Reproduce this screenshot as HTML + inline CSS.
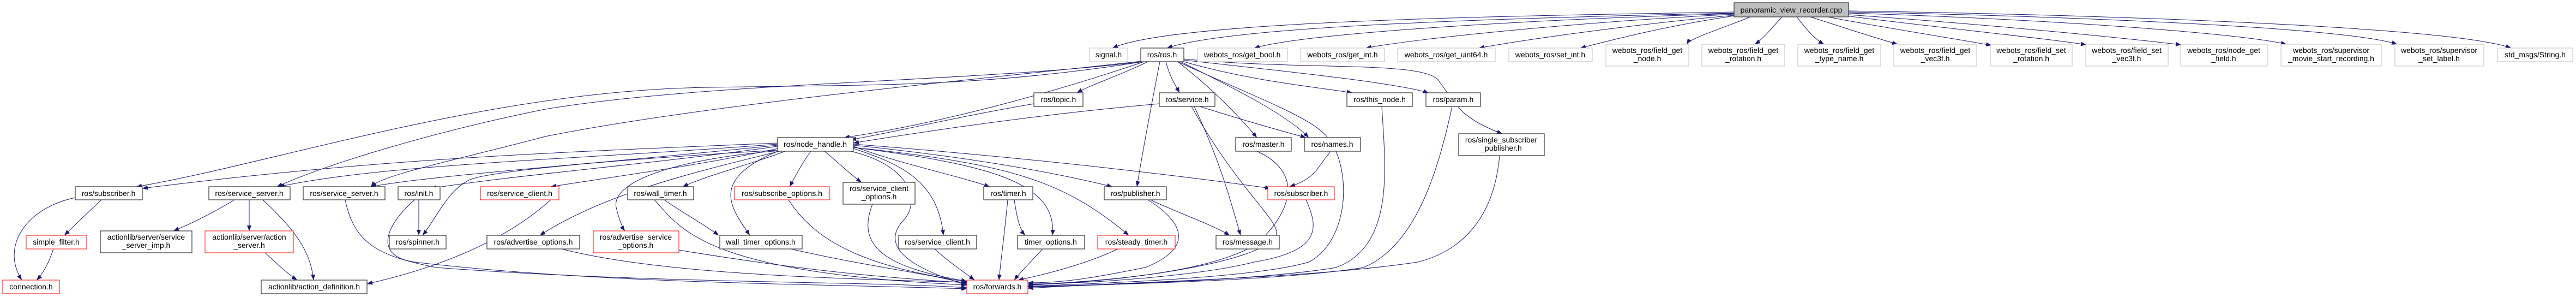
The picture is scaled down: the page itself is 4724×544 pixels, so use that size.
<!DOCTYPE html>
<html><head><meta charset="utf-8"><style>
html,body{margin:0;padding:0;background:#fff}
svg{display:block}
text{font-family:"Liberation Sans",sans-serif;font-size:14px;fill:#000;text-anchor:middle}
.k{fill:#fff;stroke:#404040;stroke-width:1.3}
.r{fill:#fff;stroke:#ff0000;stroke-width:1}
.g{fill:#fff;stroke:#bfbfbf;stroke-width:1}
path.e{fill:none;stroke:#191970;stroke-width:1;marker-end:url(#a)}
</style></head><body>
<svg width="4724" height="544" viewBox="0 0 4724 544" xmlns="http://www.w3.org/2000/svg">
<defs><marker id="a" markerWidth="10" markerHeight="8" refX="10" refY="4" orient="auto" markerUnits="userSpaceOnUse"><path d="M0,0 L10,4 L0,8z" fill="#191970"/></marker></defs>
<g>
<!-- panoramic edges -->
<path class="e" d="M3180,22 C2700,30 2150,40 2040,88"/>
<path class="e" d="M3180,24 C2700,34 2250,50 2140,88"/>
<path class="e" d="M3180,25 C2800,36 2400,60 2300,88"/>
<path class="e" d="M3180,26 C2900,40 2600,70 2505,88"/>
<path class="e" d="M3180,28 C3000,44 2800,72 2712,88"/>
<path class="e" d="M3180,29 C3050,48 2950,75 2898,88"/>
<path class="e" d="M3210,31 C3150,55 3100,70 3093,81"/>
<path class="e" d="M3268,31 C3250,50 3235,70 3218,81"/>
<path class="e" d="M3295,31 C3310,50 3325,70 3345,81"/>
<path class="e" d="M3320,31 C3380,50 3440,70 3480,81"/>
<path class="e" d="M3352,31 C3450,50 3580,70 3652,83"/>
<path class="e" d="M3385,29 C3550,50 3750,70 3826,82"/>
<path class="e" d="M3390,27 C3650,45 3900,70 4000,82"/>
<path class="e" d="M3390,24 C3750,35 4100,60 4193,81"/>
<path class="e" d="M3390,22 C3800,30 4300,50 4396,81"/>
<path class="e" d="M3390,20 C3900,28 4500,50 4605,88"/>
<!-- ros.h edges -->
<path class="e" d="M2105,113 C2050,140 2000,155 1975,170"/>
<path class="e" d="M2138,113 C2145,140 2155,155 2163,170"/>
<path class="e" d="M2127,113 C2110,200 2095,280 2085,342"/>
<path class="e" d="M2160,113 C2220,160 2270,210 2305,252"/>
<path class="e" d="M2165,113 C2260,160 2360,210 2400,252"/>
<path class="e" d="M2171,113 C2300,150 2420,160 2480,170"/>
<path class="e" d="M2171,110 C2350,130 2550,150 2620,170"/>
<path class="e" d="M2171,108 C2400,130 2620,110 2640,150 C2670,190 2675,215 2755,245"/>
<path class="e" d="M2160,113 C2350,200 2480,240 2430,290 C2410,320 2400,330 2365,342"/>
<path class="e" d="M2098,113 C1900,180 1700,230 1548,252"/>
<path class="e" d="M2096,113 C1800,160 1600,155 1300,160 C900,165 500,300 250,342"/>
<path class="e" d="M2094,113 C1800,150 1300,150 1000,200 C800,240 600,300 508,342"/>
<path class="e" d="M2094,112 C1800,145 1300,190 1000,250 C850,290 700,320 680,342"/>
<!-- topic/service -->
<path class="e" d="M1896,190 C1750,215 1650,240 1560,256"/>
<path class="e" d="M2126,190 C1900,210 1700,240 1565,262"/>
<path class="e" d="M2200,195 C2280,220 2350,240 2395,252"/>
<path class="e" d="M2190,195 C2240,300 2260,380 2275,431"/>
<path class="e" d="M2185,195 C2260,330 2330,390 2340,420 C2360,470 2100,515 1885,522"/>
<!-- node_handle edges -->
<path class="e" d="M1426,262 C1000,280 700,290 261,345"/>
<path class="e" d="M1426,264 C1100,290 700,300 512,342"/>
<path class="e" d="M1426,266 C1100,300 800,320 680,342"/>
<path class="e" d="M1426,268 C1200,300 950,320 790,345"/>
<path class="e" d="M1426,275 C1000,300 880,320 860,330 C820,350 800,400 775,431"/>
<path class="e" d="M1426,272 C1300,300 1150,320 1010,342"/>
<path class="e" d="M1440,277 C1380,300 1300,320 1252,342"/>
<path class="e" d="M1487,277 C1470,300 1460,320 1448,342"/>
<path class="e" d="M1512,277 C1540,300 1560,320 1580,334"/>
<path class="e" d="M1565,268 C1650,300 1750,320 1815,342"/>
<path class="e" d="M1565,266 C1800,290 1950,320 2040,342"/>
<path class="e" d="M1565,264 C1900,290 2150,320 2330,345"/>
<path class="e" d="M1430,277 C1250,320 1100,360 990,431"/>
<path class="e" d="M1430,276 C1250,290 1120,330 1130,380 C1135,400 1140,415 1146,423"/>
<path class="e" d="M1426,277 C1300,330 1340,380 1375,431"/>
<path class="e" d="M1565,272 C1650,300 1720,330 1730,431"/>
<path class="e" d="M1565,270 C1800,300 1940,330 1930,431"/>
<path class="e" d="M1565,270 C1850,300 1950,330 2070,431"/>
<path class="e" d="M1560,277 C1660,300 1690,360 1660,400 C1600,460 1700,500 1773,522"/>
<!-- to forwards -->
<path class="e" d="M2305,277 C2400,320 2360,400 2300,450 C2200,505 2000,515 1885,522"/>
<path class="e" d="M2450,277 C2480,350 2460,450 2400,480 C2300,510 2000,520 1885,524"/>
<path class="e" d="M2534,195 C2540,300 2560,450 2450,490 C2300,515 2000,522 1885,525"/>
<path class="e" d="M2663,195 C2640,300 2600,450 2500,490 C2350,515 2000,522 1885,526"/>
<path class="e" d="M2750,285 C2740,400 2680,460 2600,480 C2400,510 2100,515 1885,528"/>
<path class="e" d="M2395,366 C2420,420 2420,460 2300,480 C2200,505 2000,520 1885,520"/>
<path class="e" d="M2105,366 C2160,400 2200,450 2100,490 C2000,510 1950,518 1885,518"/>
<path class="e" d="M2110,366 C2160,390 2220,410 2255,431"/>
<path class="e" d="M1860,366 C1865,400 1870,420 1880,431"/>
<path class="e" d="M1848,366 C1843,420 1835,480 1832,513"/>
<path class="e" d="M1714,456 C1740,480 1770,500 1787,513"/>
<path class="e" d="M1912,456 C1890,480 1870,500 1860,513"/>
<path class="e" d="M2050,456 C2000,480 1930,500 1867,513"/>
<path class="e" d="M1200,366 C1250,420 1290,500 1773,522"/>
<path class="e" d="M1218,366 C1260,395 1290,410 1318,431"/>
<path class="e" d="M1450,456 C1600,490 1700,500 1773,520"/>
<path class="e" d="M1245,458 C1500,500 1650,510 1773,518"/>
<path class="e" d="M1030,456 C1200,500 1500,510 1773,517"/>
<path class="e" d="M1446,366 C1500,450 1600,490 1773,516"/>
<path class="e" d="M1600,374 C1570,450 1620,490 1773,515"/>
<path class="e" d="M633,366 C650,450 700,470 800,490 C1200,520 1600,515 1773,527"/>
<path class="e" d="M760,366 C700,420 690,470 760,480 C1100,520 1500,520 1773,529"/>
<path class="e" d="M768,366 L768,431"/>
<path class="e" d="M1010,366 C950,420 850,480 673,520"/>
<!-- left cluster -->
<path class="e" d="M138,362 C50,380 0,450 40,513"/>
<path class="e" d="M186,366 C160,390 140,410 118,431"/>
<path class="e" d="M98,456 C90,480 80,500 67,513"/>
<path class="e" d="M430,366 C390,390 350,410 318,423"/>
<path class="e" d="M457,366 L457,423"/>
<path class="e" d="M482,366 C540,420 570,460 575,513"/>
<path class="e" d="M486,463 C505,480 525,500 545,513"/>
</g>
<g>
<rect class="k" x="3180" y="5" width="210" height="26" style="fill:#bfbfbf"/><text x="3285" y="23">panoramic_view_recorder.cpp</text>
<rect class="g" x="1998" y="88" width="70" height="25"/><text x="2033" y="105">signal.h</text>
<rect class="k" x="2092" y="88" width="79" height="25"/><text x="2131" y="105">ros/ros.h</text>
<rect class="g" x="2196" y="88" width="165" height="25"/><text x="2278" y="105">webots_ros/get_bool.h</text>
<rect class="g" x="2385" y="88" width="154" height="25"/><text x="2462" y="105">webots_ros/get_int.h</text>
<rect class="g" x="2563" y="88" width="179" height="25"/><text x="2652" y="105">webots_ros/get_uint64.h</text>
<rect class="g" x="2767" y="88" width="153" height="25"/><text x="2843" y="105">webots_ros/set_int.h</text>
<rect class="g" x="2945" y="81" width="152" height="40"/><text x="3021" y="97">webots_ros/field_get</text><text x="3021" y="112">_node.h</text>
<rect class="g" x="3121" y="81" width="152" height="40"/><text x="3197" y="97">webots_ros/field_get</text><text x="3197" y="112">_rotation.h</text>
<rect class="g" x="3297" y="81" width="152" height="40"/><text x="3373" y="97">webots_ros/field_get</text><text x="3373" y="112">_type_name.h</text>
<rect class="g" x="3473" y="81" width="152" height="40"/><text x="3549" y="97">webots_ros/field_get</text><text x="3549" y="112">_vec3f.h</text>
<rect class="g" x="3650" y="81" width="150" height="40"/><text x="3725" y="97">webots_ros/field_set</text><text x="3725" y="112">_rotation.h</text>
<rect class="g" x="3825" y="81" width="151" height="40"/><text x="3900" y="97">webots_ros/field_set</text><text x="3900" y="112">_vec3f.h</text>
<rect class="g" x="3999" y="81" width="159" height="40"/><text x="4078" y="97">webots_ros/node_get</text><text x="4078" y="112">_field.h</text>
<rect class="g" x="4183" y="81" width="184" height="40"/><text x="4275" y="97">webots_ros/supervisor</text><text x="4275" y="112">_movie_start_recording.h</text>
<rect class="g" x="4392" y="81" width="163" height="40"/><text x="4473" y="97">webots_ros/supervisor</text><text x="4473" y="112">_set_label.h</text>
<rect class="g" x="4580" y="88" width="138" height="25"/><text x="4649" y="105">std_msgs/String.h</text>

<rect class="k" x="1896" y="170" width="90" height="25"/><text x="1941" y="187">ros/topic.h</text>
<rect class="k" x="2126" y="170" width="102" height="25"/><text x="2177" y="187">ros/service.h</text>
<rect class="k" x="2470" y="170" width="120" height="25"/><text x="2530" y="187">ros/this_node.h</text>
<rect class="k" x="2615" y="170" width="100" height="25"/><text x="2665" y="187">ros/param.h</text>

<rect class="k" x="1426" y="252" width="139" height="25"/><text x="1495" y="269">ros/node_handle.h</text>
<rect class="k" x="2266" y="252" width="102" height="25"/><text x="2317" y="269">ros/master.h</text>
<rect class="k" x="2392" y="252" width="103" height="25"/><text x="2443" y="269">ros/names.h</text>
<rect class="k" x="2675" y="245" width="157" height="40"/><text x="2753" y="261">ros/single_subscriber</text><text x="2753" y="276">_publisher.h</text>

<rect class="k" x="138" y="342" width="123" height="24"/><text x="199" y="359">ros/subscriber.h</text>
<rect class="k" x="383" y="342" width="149" height="24"/><text x="457" y="359">ros/service_server.h</text>
<rect class="k" x="556" y="342" width="150" height="24"/><text x="631" y="359">ros/service_server.h</text>
<rect class="k" x="730" y="342" width="77" height="24"/><text x="768" y="359">ros/init.h</text>
<rect class="r" x="881" y="342" width="144" height="24"/><text x="953" y="359">ros/service_client.h</text>
<rect class="k" x="1151" y="342" width="121" height="24"/><text x="1211" y="359">ros/wall_timer.h</text>
<rect class="r" x="1347" y="342" width="174" height="24"/><text x="1434" y="359">ros/subscribe_options.h</text>
<rect class="k" x="1546" y="334" width="132" height="40"/><text x="1612" y="350">ros/service_client</text><text x="1612" y="365">_options.h</text>
<rect class="k" x="1804" y="342" width="90" height="24"/><text x="1849" y="359">ros/timer.h</text>
<rect class="k" x="2025" y="342" width="114" height="24"/><text x="2082" y="359">ros/publisher.h</text>
<rect class="r" x="2325" y="342" width="122" height="24"/><text x="2386" y="359">ros/subscriber.h</text>

<rect class="r" x="48" y="431" width="111" height="25"/><text x="103" y="448">simple_filter.h</text>
<rect class="k" x="184" y="423" width="168" height="40"/><text x="268" y="439">actionlib/server/service</text><text x="268" y="454">_server_imp.h</text>
<rect class="r" x="376" y="423" width="162" height="40"/><text x="457" y="439">actionlib/server/action</text><text x="457" y="454">_server.h</text>
<rect class="k" x="714" y="431" width="104" height="25"/><text x="766" y="448">ros/spinner.h</text>
<rect class="k" x="893" y="431" width="170" height="25"/><text x="978" y="448">ros/advertise_options.h</text>
<rect class="r" x="1088" y="423" width="157" height="40"/><text x="1166" y="439">ros/advertise_service</text><text x="1166" y="454">_options.h</text>
<rect class="k" x="1320" y="431" width="151" height="25"/><text x="1395" y="448">wall_timer_options.h</text>
<rect class="k" x="1648" y="431" width="143" height="25"/><text x="1719" y="448">ros/service_client.h</text>
<rect class="k" x="1866" y="431" width="123" height="25"/><text x="1927" y="448">timer_options.h</text>
<rect class="r" x="2013" y="431" width="142" height="25"/><text x="2084" y="448">ros/steady_timer.h</text>
<rect class="k" x="2230" y="431" width="116" height="25"/><text x="2288" y="448">ros/message.h</text>

<rect class="r" x="5" y="513" width="104" height="25"/><text x="57" y="530">connection.h</text>
<rect class="k" x="479" y="513" width="194" height="25"/><text x="576" y="530">actionlib/action_definition.h</text>
<rect class="r" x="1773" y="513" width="112" height="25"/><text x="1829" y="530">ros/forwards.h</text>
</g>
</svg>
</body></html>
